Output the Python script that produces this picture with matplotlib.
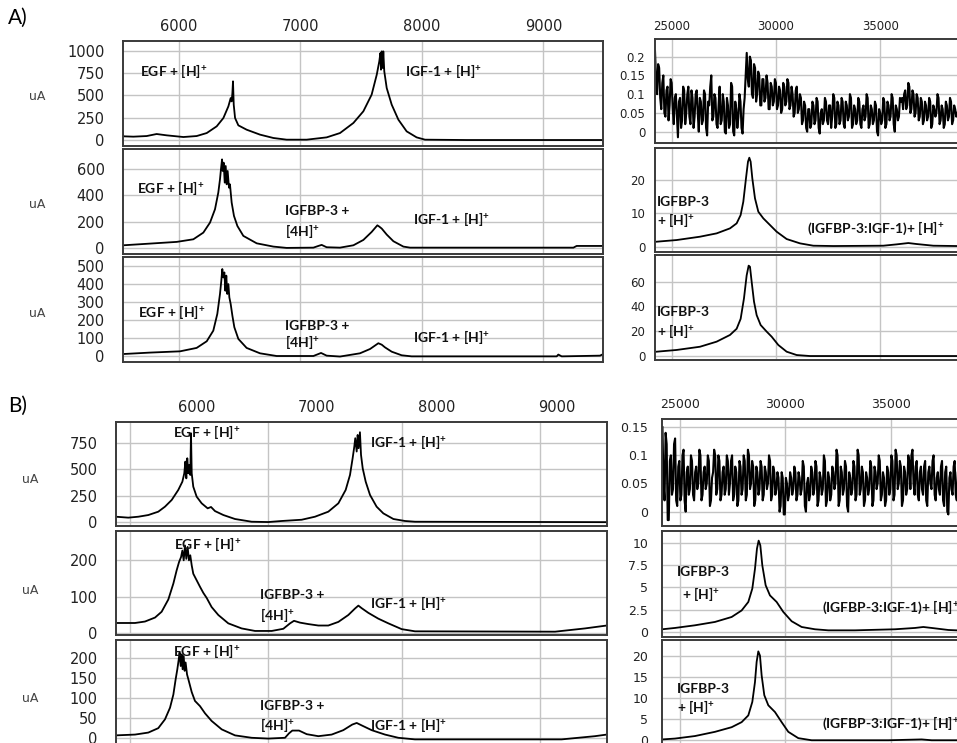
import matplotlib.pyplot as plt

plt.rcParams['mathtext.fontset'] = 'custom'
plt.rcParams['mathtext.rm'] = 'Lato:bold'
plt.rcParams['mathtext.it'] = 'Lato:bold'
plt.rcParams['mathtext.bf'] = 'Lato:bold'

# ---------------- panel A, 5.5-9.5 kDa ----------------
a1_mz = [5541, 5546, 5629, 5738, 5820, 5903, 6040, 6149, 6232, 6314, 6369, 6410, 6429, 6437,
         6443, 6448, 6454, 6465, 6492, 6560, 6670, 6780, 6889, 7054, 7218, 7328, 7438, 7520,
         7588, 7630, 7651, 7660, 7665, 7671, 7679, 7684, 7692, 7712, 7753, 7808, 7876, 7958,
         8027, 8370, 9493]
a1_ua = [94, 38, 34, 41, 64, 49, 30, 41, 75, 151, 245, 377, 471, 433,
         528, 660, 396, 245, 162, 113, 57, 19, 0, 0, 26, 75, 189, 321,
         509, 735, 886, 980, 792, 999, 811, 999, 773, 584, 396, 226, 94, 26,
         0, -4, -4]

a2_mz = [5546, 5766, 5985, 6122, 6204, 6259, 6300, 6327, 6341, 6349, 6358, 6363, 6371, 6380,
         6388, 6396, 6404, 6415, 6423, 6437, 6456, 6484, 6533, 6643, 6780, 6889, 7109, 7150,
         7177, 7218, 7328, 7438, 7520, 7588, 7635, 7651, 7671, 7712, 7767, 7849, 7904, 9247,
         9274, 9493]
a2_ua = [18, 31, 44, 64, 115, 192, 294, 421, 523, 600, 676, 587, 651, 498,
         625, 485, 587, 459, 485, 345, 243, 166, 90, 33, 8, -2, 0, 13,
         21, 3, 0, 18, 59, 120, 171, 161, 146, 100, 49, 8, 0, 0,
         13, 13]

a3_mz = [5546, 5766, 6012, 6149, 6232, 6286, 6319, 6341, 6352, 6360, 6369, 6377, 6385, 6393,
         6401, 6410, 6418, 6429, 6443, 6459, 6492, 6560, 6670, 6807, 7109, 7150, 7172, 7218,
         7328, 7492, 7575, 7643, 7671, 7698, 7753, 7835, 7917, 9110, 9123, 9151, 9466, 9493]
a3_ua = [9, 17, 24, 43, 80, 139, 232, 343, 417, 482, 435, 463, 361, 445,
         343, 398, 324, 287, 222, 158, 93, 43, 13, -2, -2, 9, 15, 0,
         -5, 13, 37, 69, 61, 46, 22, 2, -4, -4, 6, -4, 0, 9]

# ---------------- panel A, 24-39 kDa ----------------
ar1_mz = [24200, 24250, 24300, 24350, 24400, 24450, 24500, 24550, 24600, 24650, 24700, 24750, 24800, 24850, 24900, 24950, 25000, 25050, 25100, 25150,
          25200, 25250, 25300, 25350, 25400, 25450, 25500, 25550, 25600, 25650, 25700, 25750, 25800, 25850, 25900, 25950, 26000, 26050, 26100, 26150,
          26200, 26250, 26300, 26350, 26400, 26450, 26500, 26550, 26600, 26650, 26700, 26750, 26800, 26850, 26900, 26950, 27000, 27050, 27100, 27150,
          27200, 27250, 27300, 27350, 27400, 27450, 27500, 27550, 27600, 27650, 27700, 27750, 27800, 27850, 27900, 27950, 28000, 28050, 28100, 28150,
          28200, 28250, 28300, 28350, 28400, 28450, 28500, 28550, 28600, 28650, 28700, 28750, 28800, 28850, 28900, 28950, 29000, 29050, 29100, 29150,
          29200, 29250, 29300, 29350, 29400, 29450, 29500, 29550, 29600, 29650, 29700, 29750, 29800, 29850, 29900, 29950, 30000, 30050, 30100, 30150,
          30200, 30250, 30300, 30350, 30400, 30450, 30500, 30550, 30600, 30650, 30700, 30750, 30800, 30850, 30900, 30950, 31000, 31050, 31100, 31150,
          31200, 31250, 31300, 31350, 31400, 31450, 31500, 31550, 31600, 31650, 31700, 31750, 31800, 31850, 31900, 31950, 32000, 32050, 32100, 32150,
          32200, 32250, 32300, 32350, 32400, 32450, 32500, 32550, 32600, 32650, 32700, 32750, 32800, 32850, 32900, 32950, 33000, 33050, 33100, 33150,
          33200, 33250, 33300, 33350, 33400, 33450, 33500, 33550, 33600, 33650, 33700, 33750, 33800, 33850, 33900, 33950, 34000, 34050, 34100, 34150,
          34200, 34250, 34300, 34350, 34400, 34450, 34500, 34550, 34600, 34650, 34700, 34750, 34800, 34850, 34900, 34950, 35000, 35050, 35100, 35150,
          35200, 35250, 35300, 35350, 35400, 35450, 35500, 35550, 35600, 35650, 35700, 35750, 35800, 35850, 35900, 35950, 36000, 36050, 36100, 36150,
          36200, 36250, 36300, 36350, 36400, 36450, 36500, 36550, 36600, 36650, 36700, 36750, 36800, 36850, 36900, 36950, 37000, 37050, 37100, 37150,
          37200, 37250, 37300, 37350, 37400, 37450, 37500, 37550, 37600, 37650, 37700, 37750, 37800, 37850, 37900, 37950, 38000, 38050, 38100, 38150,
          38200, 38250, 38300, 38350, 38400, 38450, 38500, 38550, 38600, 38650, 38700]
ar1_ua = [0.215, 0.14, 0.10, 0.18, 0.17, 0.09, 0.06, 0.13, 0.15, 0.05, 0.04, 0.11, 0.12, 0.03, 0.07, 0.14, 0.13, 0.06, 0.02, 0.09,
          0.10, 0.04, -0.015, 0.08, 0.09, 0.01, 0.03, 0.12, 0.11, 0.02, 0.05, 0.10, 0.12, 0.04, 0.02, 0.11, 0.09, 0.01, 0.04, 0.10,
          0.11, 0.05, 0.00, 0.09, 0.08, 0.02, 0.03, 0.11, 0.10, 0.01, -0.01, 0.08, 0.07, 0.12, 0.15, 0.03, 0.04, 0.10, 0.09, 0.02,
          0.01, 0.07, 0.12, 0.02, 0.03, 0.10, 0.08, 0.00, -0.005, 0.09, 0.07, 0.01, 0.02, 0.13, 0.12, 0.00, -0.01, 0.08, 0.06, 0.01,
          0.04, 0.10, 0.08, 0.01, -0.005, 0.06, 0.09, 0.15, 0.21, 0.14, 0.12, 0.20, 0.19, 0.10, 0.09, 0.18, 0.17, 0.08, 0.10, 0.16,
          0.15, 0.07, 0.07, 0.14, 0.14, 0.08, 0.09, 0.15, 0.13, 0.06, 0.06, 0.13, 0.12, 0.07, 0.08, 0.14, 0.13, 0.06, 0.07, 0.12,
          0.11, 0.05, 0.06, 0.13, 0.12, 0.07, 0.08, 0.14, 0.13, 0.06, 0.07, 0.12, 0.10, 0.04, 0.05, 0.11, 0.12, 0.05, 0.06, 0.10,
          0.09, 0.02, 0.03, 0.08, 0.07, 0.01, 0.00, 0.06, 0.06, 0.01, 0.02, 0.08, 0.07, 0.02, 0.03, 0.09, 0.08, 0.01, -0.005, 0.05,
          0.06, 0.02, 0.03, 0.09, 0.08, 0.03, 0.02, 0.07, 0.07, 0.01, 0.04, 0.10, 0.09, 0.01, 0.02, 0.08, 0.07, 0.02, 0.03, 0.09,
          0.08, 0.02, 0.01, 0.08, 0.07, 0.03, 0.04, 0.10, 0.09, 0.01, 0.02, 0.07, 0.06, 0.02, 0.03, 0.09, 0.08, 0.02, 0.01, 0.06,
          0.07, 0.03, 0.04, 0.10, 0.09, 0.01, 0.02, 0.07, 0.06, 0.02, 0.03, 0.08, 0.07, 0.00, -0.01, 0.06, 0.05, 0.02, 0.03, 0.09,
          0.08, 0.01, 0.02, 0.08, 0.07, 0.03, 0.04, 0.10, 0.09, 0.02, 0.00, 0.07, 0.06, 0.03, 0.04, 0.09, 0.08, 0.09, 0.06, 0.10,
          0.11, 0.06, 0.07, 0.13, 0.12, 0.05, 0.06, 0.11, 0.10, 0.04, 0.05, 0.10, 0.09, 0.03, 0.04, 0.09, 0.08, 0.02, 0.03, 0.08,
          0.07, 0.03, 0.04, 0.09, 0.08, 0.01, 0.02, 0.07, 0.06, 0.04, 0.05, 0.10, 0.09, 0.02, 0.03, 0.07, 0.06, 0.01, 0.02, 0.08,
          0.07, 0.03, 0.04, 0.09, 0.08, 0.02, 0.03, 0.07, 0.06, 0.04, 0.05]

ar2_mz = [24279, 25238, 26358, 27157, 27797, 28116, 28308, 28436, 28564, 28660, 28724, 28788,
          28868, 28996, 29156, 29396, 29716, 30035, 30515, 31155, 31794, 32754, 35152, 35792,
          36352, 36751, 37551, 38670]
ar2_ua = [1.5, 2.0, 3.0, 4.0, 5.5, 7.0, 9.5, 13.5, 20.5, 25.5, 26.7, 25.5,
          20.5, 14.5, 10.5, 8.5, 6.5, 4.5, 2.3, 1.0, 0.3, 0.2, 0.3, 0.7,
          1.1, 0.8, 0.3, 0.2]

ar3_mz = [24279, 25238, 26358, 27157, 27797, 28116, 28308, 28468, 28596, 28692, 28756, 28836,
          28948, 29076, 29268, 29556, 29796, 30115, 30515, 30995, 31634, 38670]
ar3_ua = [3.5, 4.9, 7.5, 11.6, 17.0, 22.0, 30.0, 46.5, 65.0, 72.9, 72.0, 60.0,
          44.0, 33.0, 25.0, 19.7, 15.6, 8.9, 3.5, 0.8, 0.0, 0.0]

# ---------------- panel B, 5.3-9.4 kDa ----------------
b1_mz = [5322, 5427, 5511, 5594, 5677, 5733, 5789, 5844, 5878, 5894, 5903, 5911, 5919, 5928,
         5936, 5944, 5950, 5956, 5969, 5997, 6039, 6089, 6117, 6150, 6220, 6317, 6456, 6595,
         6706, 6873, 6984, 7095, 7179, 7240, 7276, 7298, 7312, 7320, 7332, 7340, 7348, 7359,
         7368, 7382, 7407, 7443, 7498, 7554, 7638, 7735, 7818, 9417]
b1_ua = [48, 39, 48, 64, 96, 144, 208, 304, 383, 463, 575, 415, 607, 463,
         543, 447, 846, 463, 335, 240, 176, 128, 141, 102, 64, 26, 0, -3,
         7, 19, 48, 96, 176, 304, 447, 607, 719, 799, 671, 830, 703, 856,
         639, 511, 383, 256, 144, 80, 26, 7, 0, -4]

b2_mz = [5322, 5483, 5566, 5650, 5705, 5761, 5803, 5830, 5850, 5867, 5878, 5889, 5900, 5911,
         5922, 5933, 5944, 5956, 5969, 5997, 6025, 6053, 6081, 6122, 6178, 6261, 6372, 6484,
         6623, 6720, 6776, 6809, 6859, 6928, 7012, 7095, 7179, 7262, 7318, 7346, 7373, 7429,
         7512, 7596, 7707, 7818, 8986, 9097, 9236, 9417]
b2_ua = [27, 27, 31, 42, 58, 92, 136, 172, 195, 209, 227, 200, 241, 204,
         237, 200, 214, 186, 163, 145, 127, 110, 96, 71, 49, 26, 12, 5,
         5, 11, 26, 33, 28, 24, 20, 20, 30, 49, 67, 75, 68, 55,
         39, 26, 10, 4, 3, 7, 12, 20]

b3_mz = [5322, 5483, 5594, 5677, 5733, 5775, 5803, 5822, 5836, 5847, 5855, 5864, 5872, 5880,
         5889, 5897, 5905, 5917, 5928, 5956, 5983, 6025, 6067, 6122, 6206, 6317, 6456, 6595,
         6734, 6767, 6795, 6851, 6915, 7012, 7123, 7220, 7295, 7332, 7373, 7457, 7568, 7679,
         7818, 9041, 9180, 9319, 9417]
b3_ua = [6, 8, 13, 24, 46, 75, 108, 146, 171, 194, 213, 179, 208, 171,
         204, 167, 188, 158, 146, 114, 92, 79, 61, 42, 21, 6, 0, -2,
         0, 11, 18, 18, 9, 4, 8, 19, 33, 37, 31, 19, 8, 0,
         -4, -4, 0, 4, 8]

# ---------------- panel B, 24-39 kDa ----------------
br1_mz = [24170, 24220, 24270, 24320, 24370, 24420, 24470, 24520, 24570, 24620, 24670, 24720, 24770, 24820, 24870, 24920, 24970, 25020, 25070, 25120,
          25170, 25220, 25270, 25320, 25370, 25420, 25470, 25520, 25570, 25620, 25670, 25720, 25770, 25820, 25870, 25920, 25970, 26020, 26070, 26120,
          26170, 26220, 26270, 26320, 26370, 26420, 26470, 26520, 26570, 26620, 26670, 26720, 26770, 26820, 26870, 26920, 26970, 27020, 27070, 27120,
          27170, 27220, 27270, 27320, 27370, 27420, 27470, 27520, 27570, 27620, 27670, 27720, 27770, 27820, 27870, 27920, 27970, 28020, 28070, 28120,
          28170, 28220, 28270, 28320, 28370, 28420, 28470, 28520, 28570, 28620, 28670, 28720, 28770, 28820, 28870, 28920, 28970, 29020, 29070, 29120,
          29170, 29220, 29270, 29320, 29370, 29420, 29470, 29520, 29570, 29620, 29670, 29720, 29770, 29820, 29870, 29920, 29970, 30020, 30070, 30120,
          30170, 30220, 30270, 30320, 30370, 30420, 30470, 30520, 30570, 30620, 30670, 30720, 30770, 30820, 30870, 30920, 30970, 31020, 31070, 31120,
          31170, 31220, 31270, 31320, 31370, 31420, 31470, 31520, 31570, 31620, 31670, 31720, 31770, 31820, 31870, 31920, 31970, 32020, 32070, 32120,
          32170, 32220, 32270, 32320, 32370, 32420, 32470, 32520, 32570, 32620, 32670, 32720, 32770, 32820, 32870, 32920, 32970, 33020, 33070, 33120,
          33170, 33220, 33270, 33320, 33370, 33420, 33470, 33520, 33570, 33620, 33670, 33720, 33770, 33820, 33870, 33920, 33970, 34020, 34070, 34120,
          34170, 34220, 34270, 34320, 34370, 34420, 34470, 34520, 34570, 34620, 34670, 34720, 34770, 34820, 34870, 34920, 34970, 35020, 35070, 35120,
          35170, 35220, 35270, 35320, 35370, 35420, 35470, 35520, 35570, 35620, 35670, 35720, 35770, 35820, 35870, 35920, 35970, 36020, 36070, 36120,
          36170, 36220, 36270, 36320, 36370, 36420, 36470, 36520, 36570, 36620, 36670, 36720, 36770, 36820, 36870, 36920, 36970, 37020, 37070, 37120,
          37170, 37220, 37270, 37320, 37370, 37420, 37470, 37520, 37570, 37620, 37670, 37720, 37770, 37820, 37870, 37920, 37970, 38020, 38070, 38120,
          38170, 38220, 38270, 38320, 38370, 38420, 38470, 38520, 38570, 38620, 38670]
br1_ua = [0.15, 0.05, 0.02, 0.14, 0.12, -0.015, -0.015, 0.09, 0.10, 0.03, 0.04, 0.12, 0.13, 0.02, 0.01, 0.08, 0.09, 0.02, 0.03, 0.10,
          0.11, 0.02, 0.00, 0.07, 0.08, 0.03, 0.04, 0.10, 0.09, 0.03, 0.02, 0.07, 0.08, 0.04, 0.05, 0.11, 0.10, 0.02, 0.03, 0.07,
          0.08, 0.04, 0.05, 0.10, 0.09, 0.01, 0.02, 0.06, 0.07, 0.11, 0.10, 0.03, 0.04, 0.10, 0.09, 0.02, 0.03, 0.07, 0.08, 0.03,
          0.04, 0.10, 0.09, 0.03, 0.05, 0.09, 0.10, 0.02, 0.03, 0.08, 0.07, 0.01, 0.02, 0.09, 0.08, 0.03, 0.04, 0.10, 0.09, 0.02,
          0.03, 0.11, 0.10, 0.04, 0.05, 0.09, 0.08, 0.01, 0.02, 0.08, 0.07, 0.03, 0.04, 0.09, 0.08, 0.02, 0.03, 0.08, 0.07, 0.04,
          0.05, 0.10, 0.09, 0.02, 0.03, 0.08, 0.07, 0.03, 0.04, 0.07, 0.06, 0.00, 0.01, 0.07, 0.06, -0.005, -0.005, 0.06, 0.05, 0.02,
          0.03, 0.07, 0.06, 0.03, 0.04, 0.08, 0.07, 0.02, 0.03, 0.07, 0.06, 0.03, 0.04, 0.09, 0.08, 0.01, 0.00, 0.05, 0.06, 0.02,
          0.03, 0.08, 0.07, 0.03, 0.04, 0.09, 0.08, 0.01, 0.02, 0.07, 0.06, 0.03, 0.04, 0.10, 0.09, 0.01, 0.02, 0.07, 0.06, 0.02,
          0.03, 0.08, 0.07, 0.04, 0.05, 0.11, 0.10, 0.01, 0.02, 0.08, 0.07, 0.03, 0.04, 0.09, 0.08, 0.01, 0.00, 0.07, 0.06, 0.03,
          0.04, 0.09, 0.08, 0.02, 0.03, 0.11, 0.10, 0.03, 0.04, 0.08, 0.07, 0.01, 0.02, 0.07, 0.06, 0.03, 0.04, 0.09, 0.08, 0.01,
          0.02, 0.08, 0.07, 0.04, 0.05, 0.10, 0.09, 0.02, 0.03, 0.07, 0.06, 0.01, 0.02, 0.08, 0.07, 0.03, 0.04, 0.10, 0.09, 0.02,
          0.03, 0.11, 0.10, 0.04, 0.05, 0.09, 0.08, 0.01, 0.02, 0.08, 0.07, 0.03, 0.04, 0.10, 0.09, 0.04, 0.10, 0.11, 0.05, 0.03,
          0.08, 0.09, 0.03, 0.02, 0.07, 0.08, 0.04, 0.03, 0.08, 0.09, 0.02, 0.01, 0.07, 0.08, 0.05, 0.04, 0.09, 0.10, 0.03, 0.02,
          0.06, 0.07, 0.04, 0.03, 0.08, 0.09, 0.02, 0.01, 0.07, 0.08, 0.00, -0.005, 0.06, 0.07, 0.04, 0.03, 0.08, 0.09, 0.03, 0.02,
          0.07, 0.08, 0.04, 0.03, 0.09, 0.10, 0.03, 0.02, 0.06, 0.07, 0.04]

br2_mz = [24163, 24763, 25711, 26659, 27449, 27923, 28239, 28429, 28555, 28650, 28729, 28808,
          28903, 29061, 29266, 29582, 29898, 30293, 30767, 31399, 32031, 33295, 35191, 36139,
          36534, 36929, 37719, 38114]
br2_ua = [0.27, 0.42, 0.72, 1.1, 1.66, 2.4, 3.36, 4.87, 7.1, 9.4, 10.3, 9.77,
          7.5, 5.25, 4.1, 3.36, 2.23, 1.18, 0.53, 0.27, 0.15, 0.15, 0.27, 0.42,
          0.53, 0.42, 0.19, 0.15]

br3_mz = [24163, 24763, 25711, 26659, 27449, 27923, 28239, 28429, 28555, 28634, 28713, 28792,
          28871, 28997, 29187, 29503, 29819, 30135, 30609, 31241, 34875, 36455, 36929, 38114]
br3_ua = [0.1, 0.3, 0.9, 1.9, 3.0, 4.2, 5.8, 9.0, 13.7, 18.5, 21.0, 20.0,
          15.3, 10.6, 8.2, 6.6, 4.2, 1.9, 0.4, -0.1, -0.1, 0.1, -0.1, -0.1]

low_ticks = [6000, 7000, 8000, 9000]
high_ticks = [25000, 30000, 35000]
b_low_grid = [5441, 6595, 7707, 8860]

SUP = r'$^{+}$'
W, H = 957, 743
fig = plt.figure(figsize=(W / 100, H / 100), dpi=100)


def box(left, top, right, bottom):
    return fig.add_axes([left / W, 1 - bottom / H, (right - left) / W, (bottom - top) / H])


def style(ax, xlim, ylim, yticks, ylabels, size, ypad, xgrid, xlabels=None, xpad=5, minor_grid=None):
    ax.set_xlim(*xlim)
    ax.set_ylim(*ylim)
    ax.set_axisbelow(True)
    ax.set_yticks(yticks, labels=ylabels)
    ax.xaxis.tick_top()
    ax.set_xticks(xgrid)
    if minor_grid is None:
        ax.grid(True, axis='x', color='#c4c4c4', lw=1.0)
    else:
        # gridlines of this panel do not sit under its mass labels
        ax.set_xticks(minor_grid, minor=True)
        ax.grid(True, axis='x', which='minor', color='#c4c4c4', lw=1.0)
    ax.grid(True, axis='y', color='#c4c4c4', lw=1.0)
    ax.tick_params(which='both', length=0)
    ax.tick_params(axis='y', labelsize=size, pad=ypad, labelcolor='#222222')
    if xlabels:
        ax.tick_params(axis='x', labeltop=True, labelbottom=False, labelsize=size, pad=xpad,
                       labelcolor='#222222')
    else:
        ax.tick_params(axis='x', labeltop=False, labelbottom=False)
    for s in ax.spines.values():
        s.set_color('#3a3a3a')
        s.set_linewidth(1.4)


def note(ax, x, y, s):
    ax.text(x, y, s, fontsize=10, fontfamily='Lato', fontweight='bold', ha='left', va='center',
            color='#111111')


# ---------------- panel A ----------------
ax = box(122.7, 41.3, 603.3, 146.3)
ax.plot(a1_mz, a1_ua, color='black', lw=1.3)
style(ax, (5541, 9493), (-75, 1113), [0, 250, 500, 750, 1000], ['0', '250', '500', '750', '1000'],
      10.5, 13, low_ticks, xlabels=True, xpad=5)
note(ax, 5683, 773, 'EGF + [H]' + SUP)
note(ax, 7862, 773, 'IGF-1 + [H]' + SUP)

ax = box(122.7, 149.3, 603.3, 254.3)
ax.plot(a2_mz, a2_ua, color='black', lw=1.3)
style(ax, (5541, 9493), (-51, 753), [0, 200, 400, 600], ['0', '200', '400', '600'], 10.5, 13, low_ticks)
note(ax, 5656, 459, 'EGF + [H]' + SUP)
note(ax, 6876, 281, 'IGFBP-3 +')
note(ax, 6876, 128, '[4H]' + SUP)
note(ax, 7931, 222, 'IGF-1 + [H]' + SUP)

ax = box(122.7, 257.3, 603.3, 362.3)
ax.plot(a3_mz, a3_ua, color='black', lw=1.3)
style(ax, (5541, 9493), (-37, 547), [0, 100, 200, 300, 400, 500],
      ['0', '100', '200', '300', '400', '500'], 10.5, 13, low_ticks)
note(ax, 5670, 241, 'EGF + [H]' + SUP)
note(ax, 6876, 167, 'IGFBP-3 +')
note(ax, 6876, 74, '[4H]' + SUP)
note(ax, 7931, 102, 'IGF-1 + [H]' + SUP)

ax = box(655, 39, 990, 143.3)
ax.plot(ar1_mz, ar1_ua, color='black', lw=1.5)
style(ax, (24200, 40269), (-0.031, 0.247), [0, 0.05, 0.1, 0.15, 0.2], ['0', '0.05', '0.1', '0.15', '0.2'],
      8.5, 7, high_ticks, xlabels=True, xpad=4)

ax = box(655, 147.7, 990, 251.7)
ax.plot(ar2_mz, ar2_ua, color='black', lw=1.3)
style(ax, (24200, 40269), (-1.5, 29.7), [0, 10, 20], ['0', '10', '20'], 8.5, 7, high_ticks)
note(ax, 24279, 13.5, 'IGFBP-3')
note(ax, 24279, 8.0, '+ [H]' + SUP)
note(ax, 31474, 5.5, '(IGFBP-3:IGF-1)+ [H]' + SUP)

ax = box(655, 255, 990, 360)
ax.plot(ar3_mz, ar3_ua, color='black', lw=1.3)
style(ax, (24200, 40269), (-3.2, 81.5), [0, 20, 40, 60], ['0', '20', '40', '60'], 8.5, 7, high_ticks)
note(ax, 24279, 35.8, 'IGFBP-3')
note(ax, 24279, 20.2, '+ [H]' + SUP)

# ---------------- panel B ----------------
ax = box(115.7, 422.3, 606.7, 525.7)
ax.plot(b1_mz, b1_ua, color='black', lw=1.3)
style(ax, (5322, 9417), (-38, 951), [0, 250, 500, 750], ['0', '250', '500', '750'], 10.5, 13,
      low_ticks, xlabels=True, xpad=5, minor_grid=b_low_grid)
note(ax, 5803, 862, 'EGF + [H]' + SUP)
note(ax, 7443, 767, 'IGF-1 + [H]' + SUP)

ax = box(115.7, 531, 606.7, 635.3)
ax.plot(b2_mz, b2_ua, color='black', lw=1.3)
style(ax, (5322, 9417), (-7, 281), [0, 100, 200], ['0', '100', '200'], 10.5, 13, low_ticks,
      minor_grid=b_low_grid)
note(ax, 5811, 246, 'EGF + [H]' + SUP)
note(ax, 6525, 104, 'IGFBP-3 +')
note(ax, 6525, 49, '[4H]' + SUP)
note(ax, 7443, 83, 'IGF-1 + [H]' + SUP)

ax = box(115.7, 640, 606.7, 747)
ax.plot(b3_mz, b3_ua, color='black', lw=1.3)
style(ax, (5322, 9417), (-23, 244), [0, 50, 100, 150, 200], ['0', '50', '100', '150', '200'],
      10.5, 13, low_ticks, minor_grid=b_low_grid)
note(ax, 5803, 217, 'EGF + [H]' + SUP)
note(ax, 6525, 79, 'IGFBP-3 +')
note(ax, 6525, 31, '[4H]' + SUP)
note(ax, 7443, 31, 'IGF-1 + [H]' + SUP)

ax = box(662.3, 419.3, 990, 526)
ax.plot(br1_mz, br1_ua, color='black', lw=1.5)
style(ax, (24163, 39694), (-0.0255, 0.164), [0, 0.05, 0.1, 0.15], ['0', '0.05', '0.1', '0.15'],
      9, 10, high_ticks, xlabels=True, xpad=6)

ax = box(662.3, 531, 990, 636.7)
ax.plot(br2_mz, br2_ua, color='black', lw=1.3)
style(ax, (24163, 39694), (-0.57, 11.39), [0, 2.5, 5, 7.5, 10], ['0', '2.5', '5', '7.5', '10'],
      9, 10, high_ticks)
note(ax, 24842, 6.75, 'IGFBP-3')
note(ax, 25079, 4.3, '+ [H]' + SUP)
note(ax, 31715, 2.8, '(IGFBP-3:IGF-1)+ [H]' + SUP)

ax = box(662.3, 640, 990, 747)
ax.plot(br3_mz, br3_ua, color='black', lw=1.3)
style(ax, (24163, 39694), (-1.7, 23.7), [0, 5, 10, 15, 20], ['0', '5', '10', '15', '20'],
      9, 10, high_ticks)
note(ax, 24842, 12.1, 'IGFBP-3')
note(ax, 24842, 7.8, '+ [H]' + SUP)
note(ax, 31715, 3.8, '(IGFBP-3:IGF-1)+ [H]' + SUP)

# axis unit labels and panel letters
for yy in [97, 205, 313]:
    fig.text(37 / W, 1 - yy / H, 'uA', fontsize=9, color='#444444', ha='center', va='center')
for yy in [480, 590, 698]:
    fig.text(30 / W, 1 - yy / H, 'uA', fontsize=9, color='#444444', ha='center', va='center')
fig.text(8 / W, 1 - 18 / H, 'A)', fontsize=15, fontfamily='Lato', ha='left', va='center')
fig.text(8 / W, 1 - 406 / H, 'B)', fontsize=15, fontfamily='Lato', ha='left', va='center')

fig.savefig('out.png', dpi=100)
